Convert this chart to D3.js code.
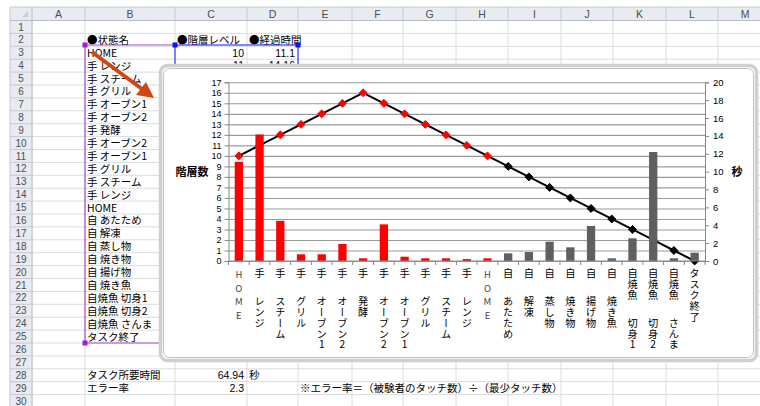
<!DOCTYPE html>
<html>
<head>
<meta charset="utf-8">
<script src="https://cdn.jsdelivr.net/npm/d3@7"></script>
<style>
  body { margin: 0; background: #fff; }
  svg text { font-family: "Noto Sans CJK JP", "Noto Sans", sans-serif; }
  .vt { writing-mode: vertical-rl; text-orientation: upright; }
</style>
</head>
<body>
<svg id="sheet" width="760" height="406"></svg>
<script>
// chart data
const categories = ["HOME","手 レンジ","手 スチーム","手 グリル","手 オーブン1","手 オーブン2","手 発酵",
  "手 オーブン2","手 オーブン1","手 グリル","手 スチーム","手 レンジ","HOME",
  "自 あたため","自 解凍","自 蒸し物","自 焼き物","自 揚げ物","自 焼き魚",
  "自焼魚 切身1","自焼魚 切身2","自焼魚 さんま","タスク終了"];
const levels = [10,11,12,13,14,15,16,15,14,13,12,11,10,9,8,7,6,5,4,3,2,1,0];
const seconds = [11.1,14.16,4.5,0.75,0.75,1.9,0.3,4.1,0.48,0.3,0.3,0.22,0.3,
  0.86,1.0,2.16,1.53,3.92,0.3,2.54,12.2,0.3,0.93];
const manualSteps = 13;   // first 13 steps are manual (red)
const leftTicks = d3.range(0, 18);
const rightTicks = d3.range(0, 21, 2);

// sheet data
const colNames = ["A","B","C","D","E","F","G","H","I","J","K","L","M"];
const colEdges = [32, 85, 175, 247, 298, 352, 403, 456, 508, 561, 613, 666, 718, 772];
const totalTime = 64.94;
const errorRate = 2.3;

const svg = d3.select("#sheet");
const rowH = 12.9, rowTop = 20.5;
const rowY = r => rowTop + (r - 1) * rowH;
const numFont = "'Liberation Sans', Arial, sans-serif";

// ---- spreadsheet grid ----
const grid = svg.append("g");
for (let r = 1; r <= 31; r++) {
  grid.append("line").attr("x1", 32).attr("x2", 760)
    .attr("y1", rowY(r)).attr("y2", rowY(r)).attr("stroke", "#dadcdd");
}
colEdges.forEach(x => {
  grid.append("line").attr("x1", x).attr("x2", x).attr("y1", 20).attr("y2", 406).attr("stroke", "#dadcdd");
});

// headers
grid.append("rect").attr("x", 10).attr("y", 7).attr("width", 750).attr("height", 13.5).attr("fill", "#e8ebef");
grid.append("rect").attr("x", 10).attr("y", 7).attr("width", 22).attr("height", 400).attr("fill", "#e8ebef");
grid.append("line").attr("x1", 10).attr("x2", 760).attr("y1", 7).attr("y2", 7).attr("stroke", "#c6cacf");
grid.append("line").attr("x1", 10).attr("x2", 760).attr("y1", 20.5).attr("y2", 20.5).attr("stroke", "#b9bec5");
grid.append("line").attr("x1", 10).attr("x2", 10).attr("y1", 7).attr("y2", 406).attr("stroke", "#c6cacf");
grid.append("line").attr("x1", 32).attr("x2", 32).attr("y1", 7).attr("y2", 406).attr("stroke", "#b9bec5");
grid.append("path").attr("d", "M28,17 L28,11 L22,17 Z").attr("fill", "#c9cdd2");
colNames.forEach((c, i) => {
  grid.append("line").attr("x1", colEdges[i + 1]).attr("x2", colEdges[i + 1]).attr("y1", 7).attr("y2", 20.5).attr("stroke", "#c6cacf");
  grid.append("text").attr("x", (colEdges[i] + colEdges[i + 1]) / 2).attr("y", 17.5)
    .attr("text-anchor", "middle").attr("font-size", 10.5).style("font-family", numFont)
    .attr("fill", "#4a4f56").text(c);
});
for (let r = 1; r <= 30; r++) {
  grid.append("line").attr("x1", 10).attr("x2", 32).attr("y1", rowY(r + 1)).attr("y2", rowY(r + 1)).attr("stroke", "#c6cacf");
  grid.append("text").attr("x", 21).attr("y", rowY(r) + 10)
    .attr("text-anchor", "middle").attr("font-size", 10).style("font-family", numFont)
    .attr("fill", "#4a4f56").text(r);
}

// cells
const cell = (col, row, txt, anchor) => {
  const x = anchor === "end" ? colEdges[col + 1] - 3 : colEdges[col] + 2;
  const t = svg.append("text").attr("x", x).attr("y", rowY(row) + 10.4)
    .attr("text-anchor", anchor || "start").attr("font-size", 10.5).attr("fill", "#000").text(txt);
  if (typeof txt === "number") t.style("font-family", numFont).attr("y", rowY(row) + 10.2);
};
cell(1, 2, "●状態名"); cell(2, 2, "●階層レベル"); cell(3, 2, "●経過時間");
categories.forEach((c, i) => cell(1, 3 + i, c));
levels.slice(0, 2).forEach((v, i) => cell(2, 3 + i, v, "end"));
seconds.slice(0, 2).forEach((v, i) => cell(3, 3 + i, v, "end"));
cell(1, 28, "タスク所要時間"); cell(2, 28, totalTime, "end"); cell(3, 28, "秒");
cell(1, 29, "エラー率"); cell(2, 29, errorRate, "end");
cell(4, 29, "※エラー率＝（被験者のタッチ数）÷（最少タッチ数）");

// selection boxes
svg.append("path").attr("d", `M175,45 L85,45 L85,${rowY(26)} L175,${rowY(26)}`)
  .attr("fill", "none").attr("stroke", "#a64fd6").attr("stroke-width", 1.2);
svg.append("rect").attr("x", 175).attr("y", 45).attr("width", 123).attr("height", 300)
  .attr("fill", "none").attr("stroke", "#3a3af0").attr("stroke-width", 1.2);
[[85, 45, "#a020d0"], [85, rowY(26), "#a020d0"], [175, 45, "#1010f0"], [298, 45, "#1010f0"]].forEach(([x, y, c]) => {
  svg.append("rect").attr("x", x - 2.5).attr("y", y - 2.5).attr("width", 5).attr("height", 5).attr("fill", c);
});

// ---- chart object ----
svg.append("rect").attr("x", 160.5).attr("y", 65.5).attr("width", 596).attr("height", 295).attr("rx", 7)
  .attr("fill", "#fff").attr("stroke", "#cfcfcf").attr("stroke-width", 3.5);
svg.append("rect").attr("x", 163.5).attr("y", 68.5).attr("width", 590).attr("height", 289).attr("rx", 6)
  .attr("fill", "#fff").attr("stroke", "#b0b0b0").attr("stroke-width", 0.8);

// arrow
svg.append("line").attr("x1", 92).attr("y1", 52).attr("x2", 142).attr("y2", 89)
  .attr("stroke", "#cf4713").attr("stroke-width", 4);
svg.append("path").attr("d", "M154,98 L136,95 L146,82 Z").attr("fill", "#cf4713");

const plot = { left: 228.5, right: 705, top: 82.3, bottom: 261 };
const x = d3.scaleBand().domain(d3.range(categories.length))
  .range([plot.left, plot.right]).paddingInner(0.6).paddingOuter(0.3);
const yL = d3.scaleLinear().domain([0, 17]).range([plot.bottom, plot.top]);
const yR = d3.scaleLinear().domain([0, 20]).range([plot.bottom, plot.top]);
const colorOf = i => i < manualSteps ? "#ff0000" : "#5f5f5f";
const markOf = i => i < manualSteps ? "#ff0000" : "#000000";

const chart = svg.append("g");

// gridlines
chart.append("g").attr("transform", `translate(${plot.left},0)`)
  .call(d3.axisLeft(yL).tickValues(leftTicks).tickSize(-(plot.right - plot.left)).tickFormat(""))
  .call(g => g.select(".domain").remove())
  .call(g => g.selectAll("line").attr("stroke", "#9a9a9a").attr("stroke-width", 1.1));

// left axis
chart.append("g").attr("transform", `translate(${plot.left},0)`)
  .call(d3.axisLeft(yL).tickValues(leftTicks).tickSize(4).tickPadding(3))
  .call(g => g.selectAll("path,line").attr("stroke", "#868686"))
  .call(g => g.selectAll("text").attr("font-size", 9).attr("fill", "#000").style("font-family", numFont));

// right axis
chart.append("g").attr("transform", `translate(${plot.right},0)`)
  .call(d3.axisRight(yR).tickValues(rightTicks).tickSize(4).tickPadding(4))
  .call(g => g.selectAll("path,line").attr("stroke", "#868686"))
  .call(g => g.selectAll("text").attr("font-size", 9.5).attr("fill", "#000").style("font-family", numFont));

// line series (level, left axis)
const line = d3.line().x((d, i) => x(i) + x.bandwidth() / 2).y(d => yL(d));
chart.append("path").datum(levels).attr("d", line)
  .attr("fill", "none").attr("stroke", "#000").attr("stroke-width", 2);
chart.selectAll(".mk").data(levels).join("path").attr("class", "mk")
  .attr("transform", (d, i) => `translate(${x(i) + x.bandwidth() / 2},${yL(d)})`)
  .attr("d", d3.symbol(d3.symbolDiamond2, 40))
  .attr("fill", (d, i) => markOf(i)).attr("stroke", (d, i) => markOf(i)).attr("stroke-width", 1);

// bars (seconds, secondary axis, drawn on top)
chart.selectAll(".bar").data(seconds).join("rect").attr("class", "bar")
  .attr("x", (d, i) => x(i)).attr("width", x.bandwidth())
  .attr("y", d => yR(d)).attr("height", d => plot.bottom - yR(d))
  .attr("fill", (d, i) => colorOf(i));

// category axis
const xb = chart.append("g");
xb.append("line").attr("x1", plot.left).attr("x2", plot.right).attr("y1", plot.bottom).attr("y2", plot.bottom)
  .attr("stroke", "#868686");
d3.range(categories.length + 1).forEach(i => {
  const tx = plot.left + i * x.step();
  xb.append("line").attr("x1", tx).attr("x2", tx).attr("y1", plot.bottom).attr("y2", plot.bottom + 4).attr("stroke", "#868686");
});

// stacked vertical category labels: one vertical text per word
categories.forEach((c, i) => {
  const cx = x(i) + x.bandwidth() / 2;
  const latin = /^[A-Z]+$/.test(c);
  const parts = c.split(" ");
  let yy = latin ? 270 : 268.5;
  parts.forEach(p => {
    xb.append("text").attr("class", "vt").attr("x", cx).attr("y", yy)
      .attr("font-size", latin ? 9.5 : 10.2)
      .attr("letter-spacing", latin ? 4 : 0.7)
      .attr("fill", latin ? "#444" : "#000").text(p);
    yy += p.length * 10.9 + 16.5;
  });
});

// axis titles
chart.append("text").attr("x", 192).attr("y", 176).attr("text-anchor", "middle")
  .attr("font-size", 11).attr("font-weight", "bold").text("階層数");
chart.append("text").attr("x", 737).attr("y", 176).attr("text-anchor", "middle")
  .attr("font-size", 11).attr("font-weight", "bold").text("秒");
</script>
</body>
</html>
